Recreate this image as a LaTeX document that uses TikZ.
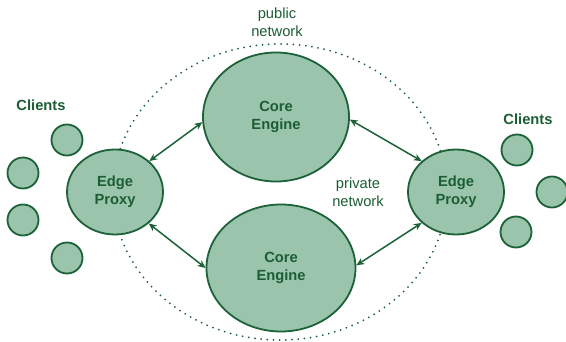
\documentclass[tikz,border=0pt]{standalone}
\usepackage{fontspec}
\setmainfont{Liberation Sans}
\usetikzlibrary{shapes.geometric,arrows.meta}
\definecolor{gfill}{RGB}{155,196,172}
\definecolor{gline}{RGB}{28,98,56}
\definecolor{gtext}{RGB}{27,94,52}
\tikzset{
  bubble/.style={ellipse,draw=gline,fill=gfill,line width=1.8pt,inner sep=0pt,
    text=gtext,align=center,font=\bfseries\fontsize{14.7}{18}\selectfont},
  client/.style={circle,draw=gline,fill=gfill,line width=1.8pt,inner sep=0pt,minimum size=31pt},
  lbl/.style={text=gtext,align=center,font=\fontsize{14.7}{18}\selectfont},
  blbl/.style={text=gtext,align=center,font=\bfseries\fontsize{14.7}{18}\selectfont},
  link/.style={draw=gline,line width=1.5pt,{Stealth[length=8pt,width=7pt]}-{Stealth[length=8pt,width=7pt]}},
  netline/.style={draw=gline,line width=2pt,line cap=round,dash pattern=on 0pt off 6.2pt}
}
\begin{document}
\begin{tikzpicture}[x=1pt,y=-1pt]
\useasboundingbox (0,0) rectangle (566,342);
\fill[white] (0,0) rectangle (566,342);
\coordinate (netc) at (280,192);
\draw[netline] (netc) ellipse [x radius=167, y radius=148];
\node[lbl] (pub) at (277,22) {public\\network};
\node[lbl] (priv) at (358,192) {private\\network};
\node[bubble,minimum width=146pt,minimum height=129pt] (core1) at (276,117) {Core\\Engine};
\node[bubble,minimum width=149pt,minimum height=127pt] (core2) at (281,268) {Core\\Engine};
\node[bubble,minimum width=96pt,minimum height=85pt] (lp) at (115,192) {Edge\\Proxy};
\node[bubble,minimum width=96pt,minimum height=85pt] (rp) at (456,192) {Edge\\Proxy};
\node[blbl] (lcl) at (41,105) {Clients};
\node[blbl] (rcl) at (528,119) {Clients};
\node[client] (c1) at (67,140) {};
\node[client] (c2) at (23,173) {};
\node[client] (c3) at (23,220) {};
\node[client] (c4) at (67,258) {};
\node[client] (c5) at (517,150) {};
\node[client] (c6) at (552,192) {};
\node[client] (c7) at (516,232) {};
\draw[link] (core1.184) -- (lp.42);
\draw[link] (lp.317) -- (core2.180);
\draw[link] (core1.358) -- (rp.138);
\draw[link] (core2.2) -- (rp.222);
\end{tikzpicture}
\end{document}
